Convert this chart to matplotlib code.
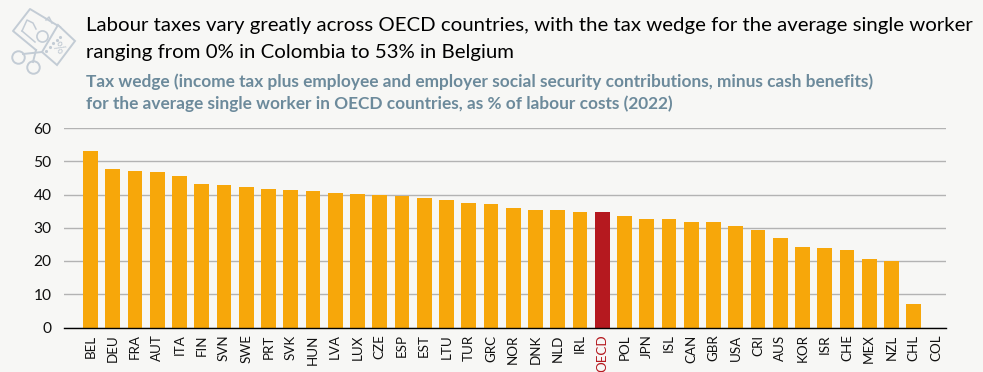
import numpy as np
import matplotlib
matplotlib.use("Agg")
import matplotlib.pyplot as plt

countries = ["BEL", "DEU", "FRA", "AUT", "ITA", "FIN", "SVN", "SWE", "PRT", "SVK", "HUN", "LVA", "LUX",
             "CZE", "ESP", "EST", "LTU", "TUR", "GRC", "NOR", "DNK", "NLD", "IRL", "OECD", "POL", "JPN",
             "ISL", "CAN", "GBR", "USA", "CRI", "AUS", "KOR", "ISR", "CHE", "MEX", "NZL", "CHL", "COL"]
tax_wedge = [53.0, 47.8, 47.0, 46.8, 45.7, 43.1, 42.8, 42.2, 41.8, 41.5, 41.0, 40.6, 40.1,
             39.8, 39.5, 38.9, 38.2, 37.4, 37.0, 35.9, 35.3, 35.2, 34.7, 34.6, 33.6, 32.6,
             32.6, 31.7, 31.6, 30.5, 29.3, 26.8, 24.2, 23.8, 23.2, 20.5, 19.9, 7.2, 0.0]
yticks = [0, 10, 20, 30, 40, 50, 60]

title = ["Labour taxes vary greatly across OECD countries, with the tax wedge for the average single worker",
         "ranging from 0% in Colombia to 53% in Belgium"]
subtitle = ["Tax wedge (income tax plus employee and employer social security contributions, minus cash benefits)",
            "for the average single worker in OECD countries, as % of labour costs (2022)"]

W, H = 983, 372
bg = "#f7f7f5"
orange = "#f7a70a"
red = "#b5191f"
plt.rcParams['font.family'] = ['Lato', 'DejaVu Sans']

fig = plt.figure(figsize=(W / 100, H / 100), dpi=100, facecolor=bg)
ax = fig.add_axes([64 / W, 1 - 327.5 / H, (946 - 64) / W, (327.5 - 128) / H], facecolor=bg)

x = np.arange(len(countries))
colors = [red if c == "OECD" else orange for c in countries]
ax.bar(x, tax_wedge, width=0.67, color=colors, zorder=3)

ax.set_xlim(-1.19, 38.45)
ax.set_ylim(0, 60)
ax.set_yticks(yticks)
ax.set_xticks(x)
ax.set_xticklabels(countries, rotation=90, fontsize=9.6, color="#111111")
ax.get_xticklabels()[countries.index("OECD")].set_color(red)
ax.tick_params(axis='y', length=0, labelsize=11.2, pad=9, labelcolor="#111111")
ax.tick_params(axis='x', length=0, pad=5)
ax.grid(axis='y', color="#b3b3b3", linewidth=1, zorder=0)
for s in ["top", "right", "left"]:
    ax.spines[s].set_visible(False)
ax.spines["bottom"].set_color("black")
ax.spines["bottom"].set_linewidth(1)
ax.spines["bottom"].set_zorder(5)

for line, y in zip(title, [25, 52.5]):
    fig.text(86 / W, 1 - y / H, line, fontsize=14.7, color="black", va='center')
for line, y in zip(subtitle, [82, 104]):
    fig.text(86 / W, 1 - y / H, line, fontsize=12.4, color="#6c8a9b", fontweight='bold', va='center')

# icon top left: banknote, scissors and percent tag
icon = fig.add_axes([0, 1 - 80 / H, 80 / W, 80 / H])
icon.set_xlim(0, 80)
icon.set_ylim(80, 0)
icon.axis('off')
ic = "#c3ccd5"
icon.plot([36, 13, 30, 60], [50, 31, 9, 27], color=ic, lw=1.4)
icon.plot([22, 27, 33, 36], [31, 20, 23, 29], color=ic, lw=1.1)
icon.plot([22, 35], [31, 42], color=ic, lw=1.1)
icon.plot([42], [36], marker='o', ms=8, mfc='none', mec=ic, mew=1.2)
icon.plot([46, 49, 52], [20, 17, 23], color=ic, lw=1.1)
icon.fill([58, 75, 57, 42], [25, 41, 65, 52], facecolor=bg, edgecolor=ic, lw=1.4, zorder=3)
icon.plot([46, 49.5, 53, 56.5, 60], [51, 47, 43, 40, 37], ls='none', marker='.', ms=2.5, color=ic, zorder=4)
icon.plot([42, 23], [52, 54], color=ic, lw=1.4)
icon.plot([36, 33], [50, 62], color=ic, lw=1.4)
icon.plot([18], [57], marker='o', ms=9, mfc='none', mec=ic, mew=1.4)
icon.plot([33], [67], marker='o', ms=9, mfc='none', mec=ic, mew=1.4)
icon.text(58, 48, "%", fontsize=10, color=ic, rotation=-45, ha='center', va='center', zorder=4)

fig.savefig("out.png", dpi=100, facecolor=bg)
